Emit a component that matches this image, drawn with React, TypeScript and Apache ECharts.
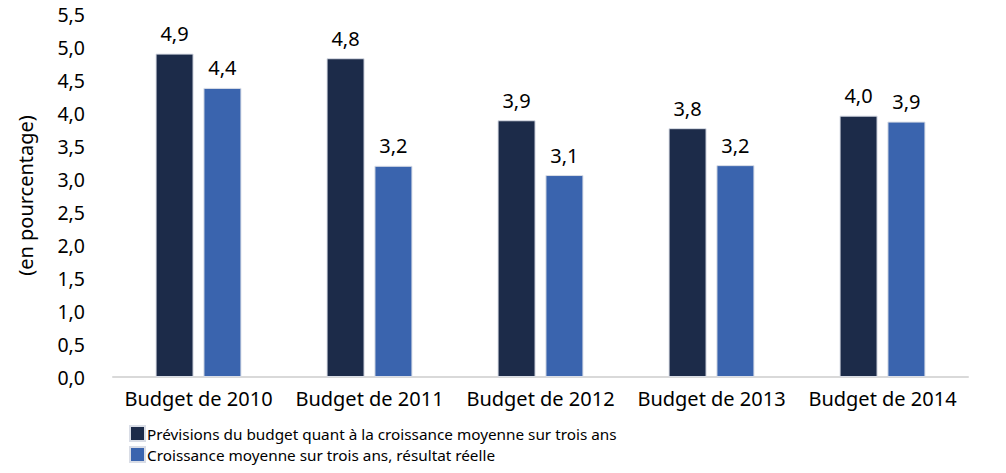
import React, { useEffect, useRef } from "react";
import * as echarts from "echarts";

const categories = ["Budget de 2010", "Budget de 2011", "Budget de 2012", "Budget de 2013", "Budget de 2014"];
const seriesNames = [
  "Prévisions du budget quant à la croissance moyenne sur trois ans",
  "Croissance moyenne sur trois ans, résultat réelle",
];
const forecastValues = [4.9, 4.83, 3.89, 3.77, 3.96];
const actualValues = [4.38, 3.2, 3.06, 3.21, 3.87];
const yAxisName = "(en pourcentage)";

const FONT = "Noto Sans";
const fmt = (v: number) => v.toFixed(1).replace(".", ",");

export default function App() {
  const ref = useRef<HTMLDivElement>(null);
  useEffect(() => {
    if (!ref.current) return;
    const chart = echarts.init(ref.current, undefined, { renderer: "svg" });
    const label = {
      show: true,
      position: "top" as const,
      distance: 10,
      color: "#000",
      fontFamily: FONT,
      fontSize: 20,
      formatter: (p: any) => fmt(p.value),
    };
    const legendBase = {
      orient: "horizontal" as const,
      left: 124,
      itemWidth: 15,
      itemHeight: 15,
      icon: "rect",
      textStyle: { fontFamily: FONT, fontSize: 15.3, color: "#000", padding: [0, 0, 0, -3] },
    };
    chart.setOption({
      animation: false,
      textStyle: { fontFamily: FONT },
      grid: { left: 113, right: 38, top: 14, bottom: 96 },
      legend: [
        { ...legendBase, top: 420, data: [seriesNames[0]] },
        { ...legendBase, top: 441, data: [seriesNames[1]] },
      ],
      xAxis: {
        type: "category",
        data: categories,
        axisLine: { lineStyle: { color: "#d9d9d9", width: 2 } },
        axisTick: { show: false },
        axisLabel: { color: "#000", fontFamily: FONT, fontSize: 20, margin: 11, interval: 0 },
      },
      yAxis: {
        type: "value",
        min: 0,
        max: 5.5,
        interval: 0.5,
        name: yAxisName,
        nameLocation: "middle",
        nameGap: 78,
        nameTextStyle: { color: "#000", fontFamily: FONT, fontSize: 20 },
        axisLine: { show: false },
        axisTick: { show: false },
        splitLine: { show: false },
        axisLabel: { color: "#000", fontFamily: FONT, fontSize: 19.5, margin: 28, formatter: (v: number) => fmt(v) },
      },
      series: [
        {
          name: seriesNames[0],
          type: "bar",
          data: forecastValues,
          barWidth: 38,
          barGap: "26%",
          itemStyle: { color: "#1c2b49", borderColor: "#d9dde6", borderWidth: 1 },
          label,
        },
        {
          name: seriesNames[1],
          type: "bar",
          data: actualValues,
          barWidth: 38,
          itemStyle: { color: "#3a64ae", borderColor: "#d9dde6", borderWidth: 1 },
          label,
        },
      ],
    });
    return () => chart.dispose();
  }, []);
  return <div ref={ref} style={{ position: "absolute", left: 0, top: 0, width: 1006, height: 473 }} />;
}
